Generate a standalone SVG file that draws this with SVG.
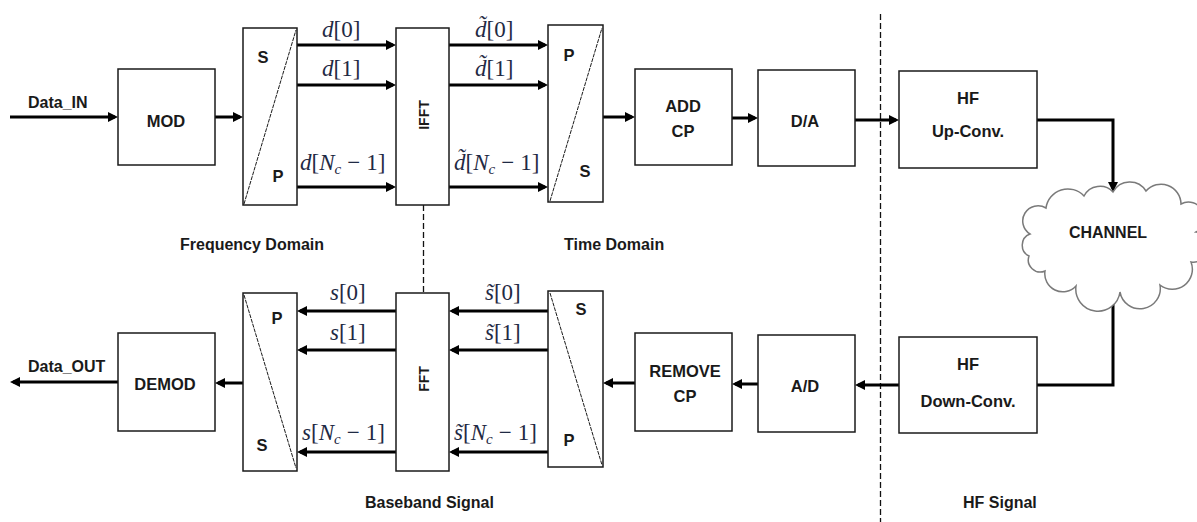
<svg xmlns="http://www.w3.org/2000/svg" width="1197" height="522" viewBox="0 0 1197 522">
<style>
.box{fill:#fff;stroke:#1a1a1a;stroke-width:1.5}
.lbl{font-family:"Liberation Sans",Arial,sans-serif;font-weight:bold;font-size:16.5px;fill:#1a1a1a;text-anchor:middle}
.cap{font-family:"Liberation Sans",Arial,sans-serif;font-weight:bold;font-size:16px;fill:#1a1a1a}
.rot{font-family:"Liberation Sans",Arial,sans-serif;font-weight:bold;font-size:14px;fill:#1a1a1a;text-anchor:middle}
.m{font-family:"Liberation Serif","DejaVu Serif",serif;font-size:23px;fill:#1f2a44}
.i{font-style:italic}
.diag{stroke:#1a1a1a;stroke-width:1;stroke-dasharray:4 1;fill:none}
.con{stroke:#000;stroke-width:3;fill:none}
.arr{marker-end:url(#ah)}
.dash{stroke:#111;stroke-width:1.3;stroke-dasharray:6 3;fill:none}
</style>
<defs>
<marker id="ah" viewBox="0 0 10 10" refX="7" refY="5" markerWidth="10" markerHeight="10" markerUnits="userSpaceOnUse" orient="auto">
<path d="M0,0 L10,5 L0,10 z" fill="#000"/>
</marker>
</defs>
<rect width="1197" height="522" fill="#fff"/>

<g id="dividers">
<line class="dash" x1="880.5" y1="14" x2="880.5" y2="522"/>
<line class="dash" x1="423.5" y1="205" x2="423.5" y2="293"/>
</g>

<g id="connectors">
<line class="con arr" x1="10" y1="117" x2="115" y2="117"/>
<line class="con arr" x1="215" y1="117" x2="240" y2="117"/>
<line class="con arr" x1="297" y1="45" x2="393" y2="45"/>
<line class="con arr" x1="297" y1="85" x2="393" y2="85"/>
<line class="con arr" x1="297" y1="187" x2="393" y2="187"/>
<line class="con arr" x1="449" y1="45" x2="545" y2="45"/>
<line class="con arr" x1="449" y1="85" x2="545" y2="85"/>
<line class="con arr" x1="449" y1="187" x2="545" y2="187"/>
<line class="con arr" x1="603" y1="117" x2="632" y2="117"/>
<line class="con arr" x1="732" y1="118" x2="755" y2="118"/>
<line class="con arr" x1="855" y1="120" x2="896" y2="120"/>
<polyline class="con arr" points="1037,120 1113,120 1113,189"/>
<polyline class="con" points="1113,292 1113,385 1037,385"/>
<line class="con arr" x1="899" y1="385" x2="858" y2="385"/>
<line class="con arr" x1="758" y1="384" x2="735" y2="384"/>
<line class="con arr" x1="635" y1="383" x2="606" y2="383"/>
<line class="con arr" x1="548" y1="311" x2="452" y2="311"/>
<line class="con arr" x1="548" y1="350" x2="452" y2="350"/>
<line class="con arr" x1="548" y1="452" x2="452" y2="452"/>
<line class="con arr" x1="396" y1="311" x2="300" y2="311"/>
<line class="con arr" x1="396" y1="350" x2="300" y2="350"/>
<line class="con arr" x1="396" y1="452" x2="300" y2="452"/>
<line class="con arr" x1="243" y1="383" x2="218" y2="383"/>
<line class="con arr" x1="118" y1="382" x2="13" y2="382"/>
</g>

<g id="connector-labels">
<text class="cap" x="28" y="108" font-size="16.5">Data_IN</text>
<text class="cap" x="28" y="372" font-size="16.5">Data_OUT</text>
<text class="m" x="322" y="37"><tspan class="i">d</tspan>[0]</text>
<text class="m" x="322" y="76"><tspan class="i">d</tspan>[1]</text>
<text class="m" x="300" y="170"><tspan class="i">d</tspan>[<tspan class="i">N</tspan><tspan class="i" font-size="15" dy="4">c</tspan><tspan dy="-4" dx="6">−</tspan><tspan dx="6">1]</tspan></text>
<text class="m" x="475" y="37"><tspan class="i">d&#x303;</tspan>[0]</text>
<text class="m" x="475" y="76"><tspan class="i">d&#x303;</tspan>[1]</text>
<text class="m" x="454" y="170"><tspan class="i">d&#x303;</tspan>[<tspan class="i">N</tspan><tspan class="i" font-size="15" dy="4">c</tspan><tspan dy="-4" dx="6">−</tspan><tspan dx="6">1]</tspan></text>
<text class="m" x="330" y="300"><tspan class="i">s</tspan>[0]</text>
<text class="m" x="330" y="340"><tspan class="i">s</tspan>[1]</text>
<text class="m" x="302" y="440"><tspan class="i">s</tspan>[<tspan class="i">N</tspan><tspan class="i" font-size="15" dy="4">c</tspan><tspan dy="-4" dx="6">−</tspan><tspan dx="6">1]</tspan></text>
<text class="m" x="485" y="300"><tspan class="i">s&#x303;</tspan>[0]</text>
<text class="m" x="485" y="340"><tspan class="i">s&#x303;</tspan>[1]</text>
<text class="m" x="454" y="440"><tspan class="i">s&#x303;</tspan>[<tspan class="i">N</tspan><tspan class="i" font-size="15" dy="4">c</tspan><tspan dy="-4" dx="6">−</tspan><tspan dx="6">1]</tspan></text>
</g>

<g id="mod">
<rect class="box" x="118" y="69" width="97" height="96"/>
<text class="lbl" x="166" y="127">MOD</text>
</g>
<g id="sp-tx">
<rect class="box" x="243" y="28" width="54" height="177"/>
<line class="diag" x1="244" y1="204" x2="296" y2="30"/>
<text class="lbl" x="263" y="63">S</text>
<text class="lbl" x="278" y="182">P</text>
</g>
<g id="ifft">
<rect class="box" x="396" y="28" width="53" height="177"/>
<text class="rot" transform="translate(429,115) rotate(-90)">IFFT</text>
</g>
<g id="ps-tx">
<rect class="box" x="548" y="25" width="55" height="177"/>
<line class="diag" x1="550" y1="201" x2="602" y2="28"/>
<text class="lbl" x="569" y="61">P</text>
<text class="lbl" x="585" y="177">S</text>
</g>
<g id="addcp">
<rect class="box" x="635" y="69" width="97" height="96"/>
<text class="lbl" x="683" y="112">ADD</text>
<text class="lbl" x="683" y="137">CP</text>
</g>
<g id="da">
<rect class="box" x="758" y="70" width="97" height="96"/>
<text class="lbl" x="805" y="127">D/A</text>
</g>
<g id="hf-up">
<rect class="box" x="899" y="71" width="138" height="97"/>
<text class="lbl" x="968" y="104">HF</text>
<text class="lbl" x="968" y="137">Up-Conv.</text>
</g>
<g id="channel">
<path d="M1030,234 A14,14 0 0 1 1046,208 A22,22 0 0 1 1084,196 A18,18 0 0 1 1113,192 A19,19 0 0 1 1146,191 A20,20 0 0 1 1181,204 A15,15 0 0 1 1196,232 A14,14 0 0 1 1191,262 A20,20 0 0 1 1160,285 A20,20 0 0 1 1120,292 A22,22 0 0 1 1076,286 A18,18 0 0 1 1045,271 A12,12 0 0 1 1029,256 A12,12 0 0 1 1030,234 Z" fill="#fff" stroke="#7a7a7a" stroke-width="1.5"/>
<text class="cap" x="1108" y="238" text-anchor="middle">CHANNEL</text>
</g>
<g id="hf-down">
<rect class="box" x="899" y="337" width="138" height="96"/>
<text class="lbl" x="968" y="370">HF</text>
<text class="lbl" x="968" y="407">Down-Conv.</text>
</g>
<g id="ad">
<rect class="box" x="758" y="335" width="97" height="97"/>
<text class="lbl" x="805" y="392">A/D</text>
</g>
<g id="removecp">
<rect class="box" x="635" y="333" width="97" height="98"/>
<text class="lbl" x="685" y="377">REMOVE</text>
<text class="lbl" x="685" y="402">CP</text>
</g>
<g id="sp-rx">
<rect class="box" x="548" y="291" width="55" height="176"/>
<line class="diag" x1="550" y1="293" x2="602" y2="465"/>
<text class="lbl" x="581" y="315">S</text>
<text class="lbl" x="569" y="446">P</text>
</g>
<g id="fft">
<rect class="box" x="396" y="293" width="53" height="178"/>
<text class="rot" transform="translate(429,379) rotate(-90)">FFT</text>
</g>
<g id="ps-rx">
<rect class="box" x="243" y="293" width="54" height="178"/>
<line class="diag" x1="244" y1="295" x2="296" y2="468"/>
<text class="lbl" x="277" y="324">P</text>
<text class="lbl" x="262" y="451">S</text>
</g>
<g id="demod">
<rect class="box" x="118" y="333" width="97" height="98"/>
<text class="lbl" x="165" y="390">DEMOD</text>
</g>

<g id="region-labels">
<text class="cap" x="180" y="250" font-size="17">Frequency Domain</text>
<text class="cap" x="564" y="250" font-size="16.5">Time Domain</text>
<text class="cap" x="365" y="508">Baseband Signal</text>
<text class="cap" x="963" y="508">HF Signal</text>
</g>
</svg>
